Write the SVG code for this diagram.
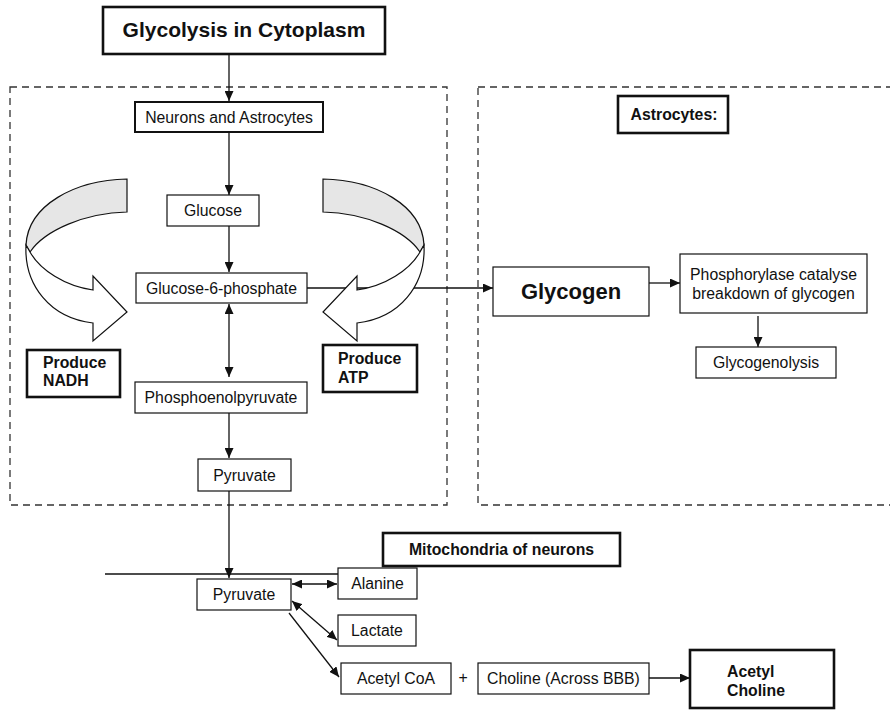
<svg xmlns="http://www.w3.org/2000/svg" width="890" height="711" viewBox="0 0 890 711">
<defs>
<style>
text{font-family:"Liberation Sans",Arial,Helvetica,sans-serif;fill:#111;font-size:15.8px;}
.m{text-anchor:middle;}
.b{font-weight:bold;}
.box{fill:#fff;stroke:#111;stroke-width:1.2;}
.thick{fill:#fff;stroke:#111;stroke-width:2.6;}
.mid{fill:#fff;stroke:#111;stroke-width:2;}
.dash{fill:none;stroke:#333;stroke-width:1.3;stroke-dasharray:7 5;}
.c{fill:none;stroke:#111;stroke-width:1.3;}
.rib{stroke:#111;stroke-width:1.2;stroke-linejoin:miter;}
</style>
<marker id="ah" markerUnits="userSpaceOnUse" markerWidth="11" markerHeight="9" refX="10" refY="4.5" orient="auto-start-reverse" viewBox="0 0 11 9"><path d="M0,0 L10,4.5 L0,9 z" fill="#111"/></marker>
<g id="ribbon">
<path class="rib" fill="#e6e6e6" d="M127,179 C75,180 28,205 26,245 L30,252 C45,230 85,213 127,212 Z"/>
<path class="rib" fill="#fff" d="M26,245 C24,285 50,318 93,323 L93,341 L127,312 L93,276 L93,290 C65,286 40,270 30,252 Z"/>
</g>
</defs>
<rect width="890" height="711" fill="#fff"/>

<g id="regions">
<rect class="dash" x="10" y="87" width="437" height="418"/>
<rect class="dash" x="478" y="87" width="420" height="418"/>
<line class="c" x1="105" y1="574" x2="368" y2="574"/>
</g>

<g id="connectors" class="c" marker-end="url(#ah)">
<path d="M229,54 V101"/>
<path d="M229,132 V195"/>
<path d="M229,226 V272"/>
<path d="M229,304 V377" marker-start="url(#ah)"/>
<path d="M229,413 V458"/>
<path d="M229,491 V578"/>
<path d="M307,288 H493"/>
<path d="M649,283 H680"/>
<path d="M758,316 V347"/>
<path d="M292,584 H337" marker-start="url(#ah)"/>
<path d="M292,601 L337,640" marker-start="url(#ah)"/>
<path d="M289,613 L339,677"/>
<path d="M649,678 H690"/>
</g>

<g id="nadh-arrow"><use href="#ribbon"/></g>
<g id="atp-arrow"><use href="#ribbon" transform="translate(450,0) scale(-1,1)"/></g>

<g id="title"><rect class="thick" x="103" y="7" width="282" height="47"/><text class="m b" x="244" y="37" style="font-size:21px">Glycolysis in Cytoplasm</text></g>
<g id="neurons"><rect class="mid" x="135" y="102" width="188" height="30"/><text class="m" x="229" y="122.5">Neurons and Astrocytes</text></g>
<g id="glucose"><rect class="box" x="167" y="195" width="92" height="31"/><text class="m" x="213" y="216">Glucose</text></g>
<g id="g6p"><rect class="box" x="136" y="273" width="171" height="30"/><text class="m" x="221.5" y="293.5">Glucose-6-phosphate</text></g>
<g id="pep"><rect class="box" x="135" y="382" width="172" height="31"/><text class="m" x="221" y="403">Phosphoenolpyruvate</text></g>
<g id="pyruvate1"><rect class="box" x="198" y="459" width="93" height="32"/><text class="m" x="244.5" y="480.5">Pyruvate</text></g>
<g id="nadh"><rect class="thick" x="27" y="350" width="93" height="47"/><text class="b" x="43" y="368">Produce</text><text class="b" x="43" y="386">NADH</text></g>
<g id="atp"><rect class="thick" x="323" y="345" width="94" height="47"/><text class="b" x="338" y="364">Produce</text><text class="b" x="338" y="383">ATP</text></g>
<g id="astrocytes"><rect class="thick" x="618" y="96" width="110" height="37"/><text class="m b" x="674" y="120">Astrocytes:</text></g>
<g id="glycogen"><rect class="box" x="493" y="267" width="156" height="49"/><text class="m b" x="571" y="299" style="font-size:22px">Glycogen</text></g>
<g id="phosphorylase"><rect class="box" x="680" y="254" width="187" height="59"/><text class="m" x="773.5" y="280">Phosphorylase catalyse</text><text class="m" x="773.5" y="299">breakdown of glycogen</text></g>
<g id="glycogenolysis"><rect class="box" x="696" y="347" width="140" height="31"/><text class="m" x="766" y="368">Glycogenolysis</text></g>
<g id="mitochondria"><rect class="thick" x="383" y="533" width="237" height="33"/><text class="m b" x="501.5" y="555">Mitochondria of neurons</text></g>
<g id="pyruvate2"><rect class="box" x="197" y="579" width="94" height="31"/><text class="m" x="244" y="600">Pyruvate</text></g>
<g id="alanine"><rect class="box" x="338" y="568" width="79" height="31"/><text class="m" x="377.5" y="589">Alanine</text></g>
<g id="lactate"><rect class="box" x="338" y="615" width="78" height="31"/><text class="m" x="377" y="636">Lactate</text></g>
<g id="acetylcoa"><rect class="box" x="341" y="663" width="110" height="31"/><text class="m" x="396" y="684">Acetyl CoA</text></g>
<g id="plus"><text class="m" x="463" y="683">+</text></g>
<g id="choline"><rect class="box" x="478" y="663" width="171" height="31"/><text class="m" x="563.5" y="684">Choline (Across BBB)</text></g>
<g id="acetylcholine"><rect class="thick" x="690" y="650" width="144" height="58"/><text class="b" x="727" y="677">Acetyl</text><text class="b" x="727" y="696">Choline</text></g>
</svg>
